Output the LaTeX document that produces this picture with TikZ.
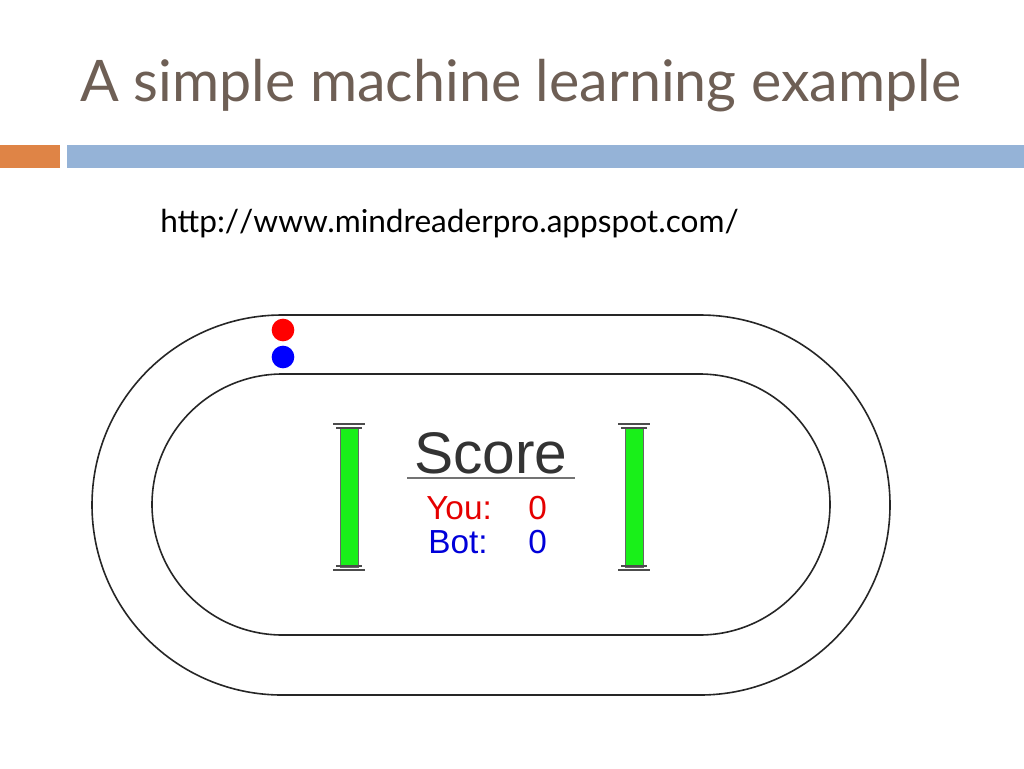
\documentclass[tikz,border=0pt]{standalone}
\usepackage{fontspec}
\setmainfont{Lato}
\newfontfamily\arialfont{Liberation Sans}
\definecolor{titlegray}{HTML}{6E5F55}
\definecolor{barorange}{HTML}{DF8446}
\definecolor{barblue}{HTML}{95B3D7}
\definecolor{padgreen}{HTML}{19F019}
\begin{document}
\begin{tikzpicture}[x=0.75pt,y=-0.75pt,
  track/.style={draw=black!85, line width=1.2pt},
  pad/.style={fill=padgreen, draw=black!60, line width=0.4pt},
  padcap/.style={draw=black!70, line width=1.2pt},
  txt/.style={inner sep=0pt, anchor=base west},
  scoretxt/.style={txt, font=\arialfont\fontsize{25}{28}\selectfont}]
  \useasboundingbox (0,0) rectangle (1024,768);
  % title and bars
  \node[txt, text=titlegray, font=\fontsize{43}{46}\selectfont] (title) at (80,101) {A simple machine learning example};
  \fill[barorange] (0,145) rectangle (60,168);
  \fill[barblue] (67,145) rectangle (1024,168);
  \node[txt, font=\fontsize{23.7}{26}\selectfont] (url) at (160,232) {http:/\kern0pt/www.mindreaderpro.appspot.com/};
  % race track
  \draw[track, rounded corners=142.5pt] (92,315) rectangle (890,695);
  \draw[track, rounded corners=97.9pt] (152,374) rectangle (830,635);
  % players
  \fill[red] (283,330) circle[radius=8.5pt];
  \fill[blue] (283,357) circle[radius=8.5pt];
  % pads
  \foreach \px in {349,634}
  {
    \fill[pad] (\px-9,427) rectangle (\px+9,567);
    \draw[padcap] (\px-16,424) -- (\px+16,424);
    \draw[padcap] (\px-13,428) -- (\px+13,428);
    \draw[padcap] (\px-13,566) -- (\px+13,566);
    \draw[padcap] (\px-16,570) -- (\px+16,570);
  }
  % score board
  \node[inner sep=0pt, anchor=base, font=\arialfont\fontsize{44}{46}\selectfont, text=black!80] (score) at (491,473) {Score};
  \draw[black!55, line width=0.8pt] (407,478) -- (575,478);
  \node[scoretxt, text=red!90!black] (you) at (426,519) {You:};
  \node[scoretxt, text=red!90!black] (youscore) at (528,519) {0};
  \node[scoretxt, text=blue!85!black] (bot) at (428,553) {Bot:};
  \node[scoretxt, text=blue!85!black] (botscore) at (528,553) {0};
\end{tikzpicture}
\end{document}
